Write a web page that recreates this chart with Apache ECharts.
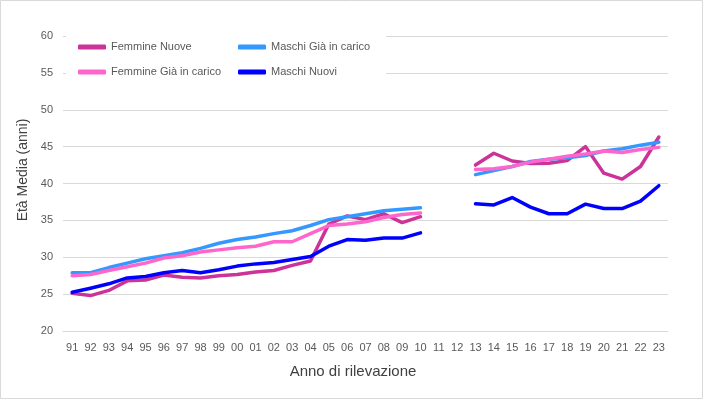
<!DOCTYPE html>
<html>
<head>
<meta charset="utf-8">
<script src="https://cdn.jsdelivr.net/npm/echarts@6/dist/echarts.min.js"></script>
<style>html,body{margin:0;padding:0;background:#fff}#c{width:703px;height:399px}</style>
</head>
<body>
<div id="c"></div>
<script>
const categories = ['91','92','93','94','95','96','97','98','99','00','01','02','03','04','05','06','07','08','09','10','11','12','13','14','15','16','17','18','19','20','21','22','23'];
const femmineNuove = [25.1,24.8,25.5,26.8,26.9,27.6,27.3,27.2,27.5,27.65,28.0,28.2,28.9,29.5,34.5,35.6,35.1,35.9,34.7,35.5,null,null,42.5,44.1,43.05,42.7,42.75,43.1,45.0,41.4,40.6,42.3,46.3];
const maschiGia = [27.9,27.9,28.6,29.2,29.8,30.2,30.6,31.2,31.9,32.4,32.75,33.2,33.6,34.3,35.1,35.5,35.9,36.3,36.5,36.7,null,null,41.2,41.75,42.3,43.0,43.3,43.5,43.8,44.4,44.7,45.2,45.6];
const femmineGia = [27.5,27.65,28.2,28.7,29.2,29.9,30.2,30.7,31.0,31.3,31.5,32.1,32.1,33.2,34.3,34.5,34.8,35.4,35.8,36.0,null,null,41.9,42.0,42.3,42.9,43.3,43.7,44.0,44.4,44.2,44.6,44.9];
const maschiNuovi = [25.25,25.8,26.4,27.2,27.4,27.9,28.2,27.9,28.3,28.8,29.1,29.3,29.7,30.1,31.5,32.4,32.3,32.6,32.6,33.3,null,null,37.25,37.1,38.1,36.8,35.9,35.9,37.2,36.6,36.6,37.6,39.7];
const yTicks = {min: 20, max: 60, interval: 5};

const FONT = '"Liberation Sans", Arial, sans-serif';
const chart = echarts.init(document.getElementById('c'));
function ser(name, data, color) {
  return {name, type: 'line', data, symbol: 'none', smooth: false, connectNulls: false,
    lineStyle: {color, width: 3.5, cap: 'round', join: 'round'}, itemStyle: {color}};
}
const legendCommon = {
  orient: 'vertical', top: 40, padding: 0, itemGap: 11, itemWidth: 28, itemHeight: 5,
  icon: 'roundRect', selectedMode: false,
  textStyle: {fontFamily: FONT, fontSize: 11, color: '#595959', lineHeight: 14}
};
chart.setOption({
  animation: false,
  backgroundColor: '#fff',
  textStyle: {fontFamily: FONT},
  grid: {left: 63, right: 35, top: 36, bottom: 68},
  legend: [
    Object.assign({left: 78, data: ['Femmine Nuove', 'Femmine Già in carico']}, legendCommon),
    Object.assign({left: 238, data: ['Maschi Già in carico', 'Maschi Nuovi']}, legendCommon)
  ],
  graphic: [
    {type: 'rect', z: 1, shape: {x: 66, y: 30, width: 320, height: 52}, style: {fill: '#fff'}},
    {type: 'rect', z: 0, shape: {x: 0.5, y: 0.5, width: 702, height: 398}, style: {fill: null, stroke: '#d9d9d9', lineWidth: 1}},
    {type: 'text', z: 5, x: 23, y: 170, rotation: Math.PI / 2,
      style: {text: 'Età Media (anni)', fontFamily: FONT, fontSize: 14, fill: '#404040', align: 'center', verticalAlign: 'middle'}},
    {type: 'text', z: 5, x: 353, y: 372,
      style: {text: 'Anno di rilevazione', fontFamily: FONT, fontSize: 15, fill: '#404040', align: 'center', verticalAlign: 'middle'}}
  ],
  xAxis: {
    type: 'category', data: categories, boundaryGap: true,
    axisLine: {lineStyle: {color: '#d9d9d9', width: 1}},
    axisTick: {show: false},
    axisLabel: {interval: 0, margin: 11, fontSize: 11, color: '#595959', fontFamily: FONT}
  },
  yAxis: {
    type: 'value', min: yTicks.min, max: yTicks.max, interval: yTicks.interval,
    axisLine: {show: false}, axisTick: {show: false},
    axisLabel: {margin: 10, fontSize: 11, color: '#595959', fontFamily: FONT},
    splitLine: {lineStyle: {color: '#d9d9d9', width: 1}}
  },
  series: [
    ser('Femmine Nuove', femmineNuove, '#CC3399'),
    ser('Maschi Già in carico', maschiGia, '#3399FF'),
    ser('Femmine Già in carico', femmineGia, '#FF66CC'),
    ser('Maschi Nuovi', maschiNuovi, '#0000FF')
  ]
});
</script>
</body>
</html>
